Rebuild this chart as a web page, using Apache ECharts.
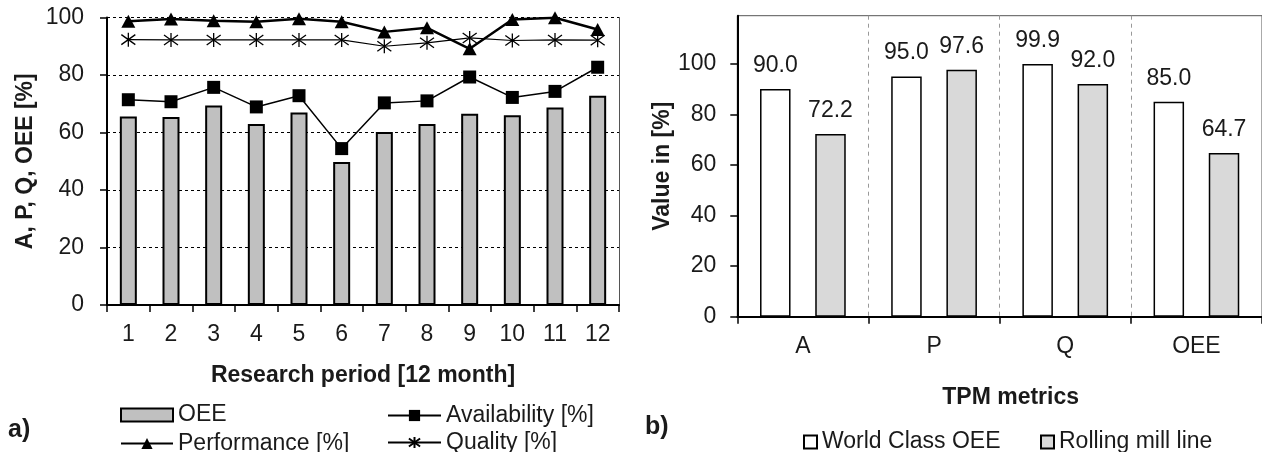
<!DOCTYPE html>
<html>
<head>
<meta charset="utf-8">
<script src="https://cdn.jsdelivr.net/npm/echarts@6/dist/echarts.min.js"></script>
<style>
html,body{margin:0;padding:0;background:#fff;}
#c{width:1262px;height:452px;}
</style>
</head>
<body>
<div id="c"></div>
<script>
// ---- data ----
var periods = ['1','2','3','4','5','6','7','8','9','10','11','12'];
var oee = [65.6, 65.4, 69.4, 63.0, 67.0, 49.7, 60.2, 63.0, 66.5, 66.0, 68.7, 72.8];
var availability = [71.4, 70.7, 75.7, 68.9, 72.8, 54.4, 70.3, 71.0, 79.3, 72.2, 74.3, 82.7];
var performance = [98.7, 99.5, 98.9, 98.5, 99.6, 98.5, 95.0, 96.4, 89.1, 99.3, 99.9, 95.8];
var quality = [92.3, 92.2, 92.2, 92.2, 92.2, 92.2, 90.0, 91.2, 92.9, 92.0, 92.2, 92.1];

var metrics = ['A', 'P', 'Q', 'OEE'];
var worldClass = [90.0, 95.0, 99.9, 85.0];
var rollingMill = [72.2, 97.6, 92.0, 64.7];

var leftTicks = [0, 20, 40, 60, 80, 100];
var rightTicks = [0, 20, 40, 60, 80, 100];

// ---- chart ----
var FONT = 'Liberation Sans, Arial, Helvetica, sans-serif';
var TXT = '#1a1a1a';
var chart = echarts.init(document.getElementById('c'), null, {renderer: 'canvas'});
var asterisk = 'path://M7,0L7,14M1.5,2L12.5,12M1.5,12L12.5,2';

function legendAt(name, left, top, w, h, icon) {
  var l = {
    data: [name], left: left, top: top, itemWidth: w, itemHeight: h, itemGap: 0,
    padding: 0, selectedMode: false,
    textStyle: {fontFamily: FONT, fontSize: 23, color: TXT, padding: [0, 0, 0, 0]},
    formatter: function (n) { return n; }
  };
  if (icon) { l.icon = icon; }
  return l;
}

var option = {
  backgroundColor: '#fff',
  animation: false,
  textStyle: {fontFamily: FONT},
  grid: [
    {left: 107, top: 17.5, width: 512, height: 287.5, containLabel: false},
    {left: 737.3, top: 15.7, width: 526.8, height: 301, containLabel: false,
     show: true, borderColor: '#555', borderWidth: 1, backgroundColor: 'transparent'}
  ],
  xAxis: [
    {
      gridIndex: 0, type: 'category', data: periods, boundaryGap: true,
      axisLine: {lineStyle: {color: '#000', width: 2}},
      axisTick: {show: true, inside: false, length: 7, alignWithLabel: false, lineStyle: {color: '#000', width: 1.5}},
      axisLabel: {fontFamily: FONT, fontSize: 23, color: TXT, margin: 18},
      name: 'Research period [12 month]', nameLocation: 'middle', nameGap: 59,
      nameTextStyle: {fontFamily: FONT, fontSize: 23, fontWeight: 'bold', color: TXT},
      splitLine: {show: false}
    },
    {
      gridIndex: 1, type: 'category', data: metrics, boundaryGap: true,
      axisLine: {lineStyle: {color: '#000', width: 2}},
      axisTick: {show: true, inside: false, length: 7, alignWithLabel: false, lineStyle: {color: '#000', width: 1.5}},
      axisLabel: {fontFamily: FONT, fontSize: 23, color: TXT, margin: 18},
      name: 'TPM metrics', nameLocation: 'middle', nameGap: 69,
      nameTextStyle: {fontFamily: FONT, fontSize: 23, fontWeight: 'bold', color: TXT, padding: [0, 0, 0, 22]},
      splitLine: {show: true, lineStyle: {color: '#999', width: 1, type: [4, 4]}}
    }
  ],
  yAxis: [
    {
      gridIndex: 0, type: 'value', min: 0, max: 100, interval: 20,
      axisLine: {show: true, lineStyle: {color: '#000', width: 2}},
      axisTick: {show: true, inside: false, length: 7, lineStyle: {color: '#000', width: 1.5}},
      axisLabel: {fontFamily: FONT, fontSize: 23, color: TXT, margin: 23, customValues: leftTicks},
      splitLine: {show: true, lineStyle: {color: '#000', width: 1, type: [3, 3]}},
      name: 'A, P, Q, OEE [%]', nameLocation: 'middle', nameGap: 70, nameRotate: 90,
      nameTextStyle: {fontFamily: FONT, fontSize: 23, fontWeight: 'bold', color: TXT}
    },
    {
      gridIndex: 0, type: 'value', min: 0, max: 100, position: 'right',
      axisLine: {show: true, lineStyle: {color: '#555', width: 1}},
      axisTick: {show: false}, axisLabel: {show: false}, splitLine: {show: false}
    },
    {
      gridIndex: 1, type: 'value', min: 0, max: 119,
      axisLine: {show: true, lineStyle: {color: '#000', width: 2}},
      axisTick: {show: true, inside: false, length: 7, lineStyle: {color: '#000', width: 1.5}, customValues: rightTicks},
      axisLabel: {fontFamily: FONT, fontSize: 23, color: TXT, margin: 21, customValues: rightTicks},
      splitLine: {show: false},
      name: 'Value in [%]', nameLocation: 'middle', nameGap: 62, nameRotate: 90,
      nameTextStyle: {fontFamily: FONT, fontSize: 23, fontWeight: 'bold', color: TXT}
    }
  ],
  legend: [
    legendAt('OEE', 120, 403.5, 52, 13, 'rect'),
    legendAt('Availability [%]', 387, 404, 53, 14),
    legendAt('Performance [%]', 120, 432, 52, 14),
    legendAt('Quality [%]', 387, 431, 53, 14),
    legendAt('World Class OEE', 803, 430.5, 13, 13, 'rect'),
    legendAt('Rolling mill line', 1040, 430.5, 13, 13, 'rect')
  ],
  graphic: [
    {type: 'text', left: 8, top: 418, style: {text: 'a)', font: 'bold 25px ' + FONT, fill: TXT}},
    {type: 'text', left: 645, top: 415, style: {text: 'b)', font: 'bold 25px ' + FONT, fill: TXT}}
  ],
  series: [
    {
      name: 'OEE', type: 'bar', xAxisIndex: 0, yAxisIndex: 0, data: oee, barWidth: 17,
      itemStyle: {color: '#c0c0c0', borderColor: '#000', borderWidth: 2}, z: 2
    },
    {
      name: 'Availability [%]', type: 'line', xAxisIndex: 0, yAxisIndex: 0, data: availability,
      symbol: 'rect', symbolSize: 13, showAllSymbol: true,
      lineStyle: {color: '#000', width: 1.5}, itemStyle: {color: '#000'}, z: 4
    },
    {
      name: 'Performance [%]', type: 'line', xAxisIndex: 0, yAxisIndex: 0, data: performance,
      symbol: 'triangle', symbolSize: [14, 13], showAllSymbol: true,
      lineStyle: {color: '#000', width: 2.5}, itemStyle: {color: '#000'}, z: 4
    },
    {
      name: 'Quality [%]', type: 'line', xAxisIndex: 0, yAxisIndex: 0, data: quality,
      symbol: asterisk, symbolSize: 14, showAllSymbol: true,
      lineStyle: {color: '#000', width: 1.2},
      itemStyle: {color: 'rgba(0,0,0,0)', borderColor: '#000', borderWidth: 1.3}, z: 4
    },
    {
      name: 'World Class OEE', type: 'bar', xAxisIndex: 1, yAxisIndex: 2, data: worldClass,
      barWidth: 30.5, barGap: '81%',
      itemStyle: {color: '#fff', borderColor: '#000', borderWidth: 1.5},
      label: {show: true, position: 'top', distance: 12, fontFamily: FONT, fontSize: 23, color: TXT,
              formatter: function (p) { return p.value.toFixed(1); }}
    },
    {
      name: 'Rolling mill line', type: 'bar', xAxisIndex: 1, yAxisIndex: 2, data: rollingMill,
      barWidth: 30.5, barGap: '81%',
      itemStyle: {color: '#d9d9d9', borderColor: '#000', borderWidth: 1.5},
      label: {show: true, position: 'top', distance: 12, fontFamily: FONT, fontSize: 23, color: TXT,
              formatter: function (p) { return p.value.toFixed(1); }}
    }
  ]
};
chart.setOption(option);
</script>
</body>
</html>
